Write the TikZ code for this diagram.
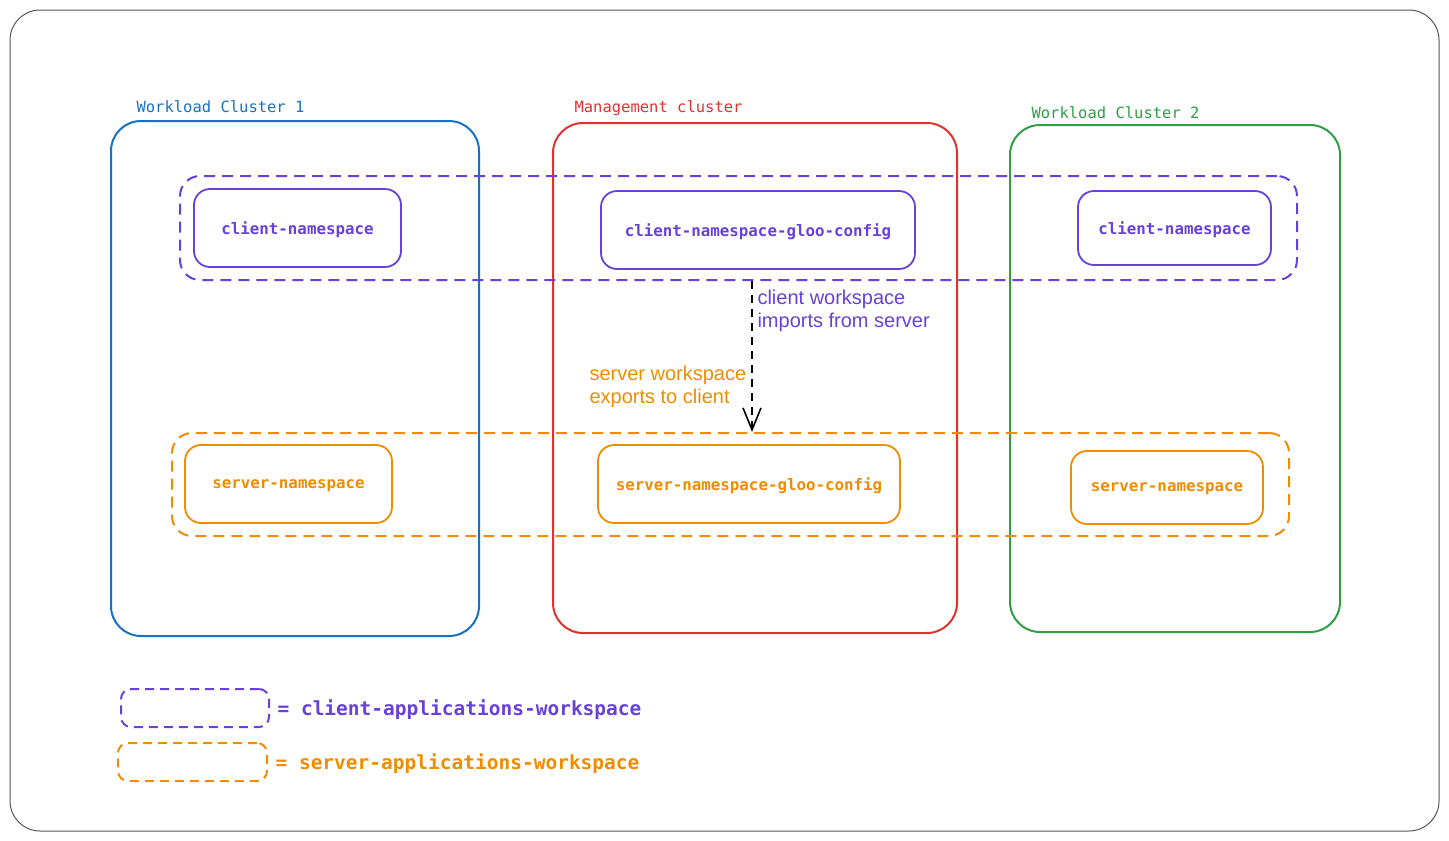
\documentclass[tikz,border=0pt]{standalone}
\usepackage{fontspec}
\setmainfont{Liberation Sans}
\setmonofont{DejaVu Sans Mono}
\usetikzlibrary{arrows.meta}
\definecolor{cblue}{HTML}{1971C2}
\definecolor{cred}{HTML}{E03131}
\definecolor{cgreen}{HTML}{2F9E44}
\definecolor{cpurple}{HTML}{6741D9}
\definecolor{corange}{HTML}{F08C00}
\definecolor{cgray}{HTML}{555555}
\tikzset{
  cluster/.style={line width=2pt, rounded corners=30pt},
  ns/.style={line width=1.8pt, rounded corners=16pt, text depth=0pt, font=\fontsize{15.8}{18}\ttfamily\bfseries},
  wsbox/.style={line width=2pt, rounded corners=20pt, dash pattern=on 11pt off 7pt},
  clabel/.style={anchor=west, font=\fontsize{15.5}{18}\ttfamily},
  note/.style={anchor=west, align=left, font=\fontsize{20}{23}\selectfont},
  legtext/.style={anchor=west, font=\fontsize{19.5}{22}\ttfamily\bfseries},
}
\begin{document}
\begin{tikzpicture}[x=1pt,y=-1pt]
\useasboundingbox (0,0) rectangle (1449,841);
% outer frame
\draw[cgray, line width=1pt, rounded corners=30pt] (10,10) rectangle (1439,831);

% clusters
\draw[cluster, cblue] (111,121) rectangle (479,636);
\draw[cluster, cred] (553,123) rectangle (957,633);
\draw[cluster, cgreen] (1010,125) rectangle (1340,632);
\node[clabel, text=cblue] (l1) at (133,107) {Workload Cluster 1};
\node[clabel, text=cred] (l2) at (571,108) {Management cluster};
\node[clabel, text=cgreen] (l3) at (1028,113) {Workload Cluster 2};

% workspace dashed boxes
\node[draw=cpurple, wsbox, minimum width=1117pt, minimum height=104pt, inner sep=0pt] (cws) at (738.5,228) {};
\node[draw=corange, wsbox, minimum width=1117pt, minimum height=103pt, inner sep=0pt] (sws) at (730.5,484.5) {};

% namespaces
\node[draw=cpurple, ns, text=cpurple, minimum width=207pt, minimum height=78pt] (c1) at (297.5,228) {client-namespace};
\node[draw=cpurple, ns, text=cpurple, minimum width=314pt, minimum height=78pt] (c2) at (758,230) {client-namespace-gloo-config};
\node[draw=cpurple, ns, text=cpurple, minimum width=193pt, minimum height=74pt] (c3) at (1174.5,228) {client-namespace};
\node[draw=corange, ns, text=corange, minimum width=207pt, minimum height=78pt] (s1) at (288.5,484) {server-namespace};
\node[draw=corange, ns, text=corange, minimum width=302pt, minimum height=78pt] (s2) at (749,484) {server-namespace-gloo-config};
\node[draw=corange, ns, text=corange, minimum width=192pt, minimum height=73pt] (s3) at (1167,487.5) {server-namespace};

% arrow
\coordinate (a1) at (752,281);
\draw[black, line width=1.8pt, dash pattern=on 8pt off 6pt, -{Straight Barb[length=22pt,width=18pt,line width=1.6pt]}] (a1) -- (a1 |- sws.north);

\node[note, text=cpurple] (n1) at (754,311) {client workspace\\imports from server};
\node[note, text=corange] (n2) at (586,387) {server workspace\\exports to client};

% legend
\node[draw=cpurple, wsbox, rounded corners=10pt, dash pattern=on 9pt off 6pt, minimum width=148pt, minimum height=38pt] (lg1) at (195,708) {};
\node[draw=corange, wsbox, rounded corners=10pt, dash pattern=on 9pt off 6pt, minimum width=149pt, minimum height=38pt] (lg2) at (192.5,762) {};
\node[legtext, text=cpurple, xshift=4pt, yshift=-2pt] (t1) at (lg1.east) {= client-applications-workspace};
\node[legtext, text=corange, xshift=4pt, yshift=-2pt] (t2) at (lg2.east) {= server-applications-workspace};
\end{tikzpicture}
\end{document}
